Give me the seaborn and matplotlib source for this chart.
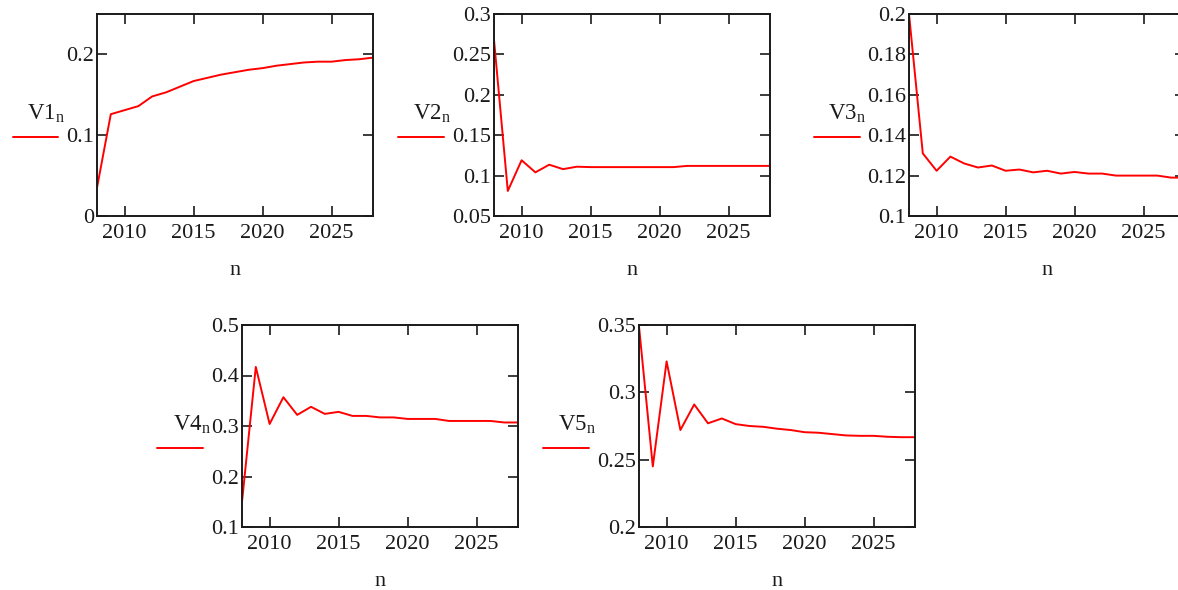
import numpy as np
import pandas as pd
import matplotlib
matplotlib.use("Agg")
import matplotlib.pyplot as plt
import seaborn as sns
from matplotlib.lines import Line2D
from matplotlib.ticker import FixedLocator, FuncFormatter

# data (years 2008..2028)
years = list(range(2008, 2029))

V1 = [0.035, 0.126, 0.131, 0.136, 0.148, 0.153, 0.160, 0.167, 0.171, 0.175, 0.178,
      0.181, 0.183, 0.186, 0.188, 0.190, 0.191, 0.191, 0.193, 0.194, 0.196]
V2 = [0.268, 0.081, 0.119, 0.104, 0.1135, 0.108, 0.111, 0.1105, 0.1105, 0.1105, 0.1105,
      0.1105, 0.1105, 0.1105, 0.112, 0.112, 0.112, 0.112, 0.112, 0.112, 0.112]
V3 = [0.200, 0.131, 0.1224, 0.1294, 0.126, 0.124, 0.125, 0.1224, 0.123, 0.1216, 0.1224,
      0.121, 0.1218, 0.121, 0.121, 0.120, 0.120, 0.120, 0.120, 0.119, 0.119]
V4 = [0.150, 0.417, 0.304, 0.357, 0.322, 0.338, 0.324, 0.328, 0.320, 0.320, 0.317,
      0.317, 0.314, 0.314, 0.314, 0.310, 0.310, 0.310, 0.310, 0.307, 0.307]
V5 = [0.349, 0.245, 0.323, 0.272, 0.291, 0.277, 0.2806, 0.2764, 0.275, 0.2744, 0.273,
      0.272, 0.2704, 0.270, 0.269, 0.268, 0.2677, 0.2677, 0.267, 0.2667, 0.2667]

names = ["V1", "V2", "V3", "V4", "V5"]
series = [V1, V2, V3, V4, V5]
ylims = [(0, 0.25), (0.05, 0.3), (0.1, 0.2), (0.1, 0.5), (0.2, 0.35)]
yticks = [[0, 0.1, 0.2],
          [0.05, 0.1, 0.15, 0.2, 0.25, 0.3],
          [0.1, 0.12, 0.14, 0.16, 0.18, 0.2],
          [0.1, 0.2, 0.3, 0.4, 0.5],
          [0.2, 0.25, 0.3, 0.35]]
xticks = [2010, 2015, 2020, 2025]

sns.set_style("ticks")
plt.rcParams["font.family"] = ["Liberation Serif", "DejaVu Serif"]
plt.rcParams["mathtext.fontset"] = "custom"
plt.rcParams["mathtext.rm"] = "Liberation Serif"
plt.rcParams["mathtext.it"] = "Liberation Serif"

W, H = 1178, 590
fig = plt.figure(figsize=(W / 100, H / 100), dpi=100)

# axes boxes in pixels: left, right, top, bottom
boxes = [(97, 373, 14, 216), (494, 770, 14, 216), (909, 1185, 14, 216),
         (242, 518, 325, 527), (639, 915, 325, 527)]
# label / legend-line offsets left of the axis (px)
lab_off = [70, 81, 81, 69, 81]
line_off = [(84, 39), (96, 50), (95, 49), (85, 39), (96, 50)]

for i in range(5):
    l, r, t, b = boxes[i]
    ax = fig.add_axes([l / W, 1 - b / H, (r - l) / W, (b - t) / H])
    df = pd.DataFrame({"n": years, "v": series[i]})
    sns.lineplot(data=df, x="n", y="v", ax=ax, color="#ff0000", linewidth=1.4)
    ax.set_xlim(2008, 2028)
    ax.set_ylim(*ylims[i])
    ax.xaxis.set_major_locator(FixedLocator(xticks))
    ax.yaxis.set_major_locator(FixedLocator(yticks[i]))
    ax.yaxis.set_major_formatter(FuncFormatter(lambda v, p: "%g" % round(v, 4)))
    ax.tick_params(direction="in", length=7, width=1.2, top=True, right=True,
                   labelsize=16, colors="#1a1a1a")
    ax.tick_params(axis="y", pad=2)
    ax.tick_params(axis="x", pad=6)
    for s in ax.spines.values():
        s.set_linewidth(1.4)
        s.set_color("#1a1a1a")
    ax.set_xlabel("n", fontsize=16, labelpad=13, color="#1a1a1a")
    ax.set_ylabel("")
    w = r - l
    ax.text(-lab_off[i] / w, 0.505, r"$\mathrm{%s}_{\mathrm{n}}$" % names[i],
            transform=ax.transAxes, fontsize=16.5, ha="left", va="center",
            color="#1a1a1a")
    x0, x1 = line_off[i]
    ax.add_line(Line2D([-x0 / w, -x1 / w], [0.39, 0.39], transform=ax.transAxes,
                       color="#ff0000", linewidth=1.4, clip_on=False))

fig.savefig("out.png", dpi=100)
